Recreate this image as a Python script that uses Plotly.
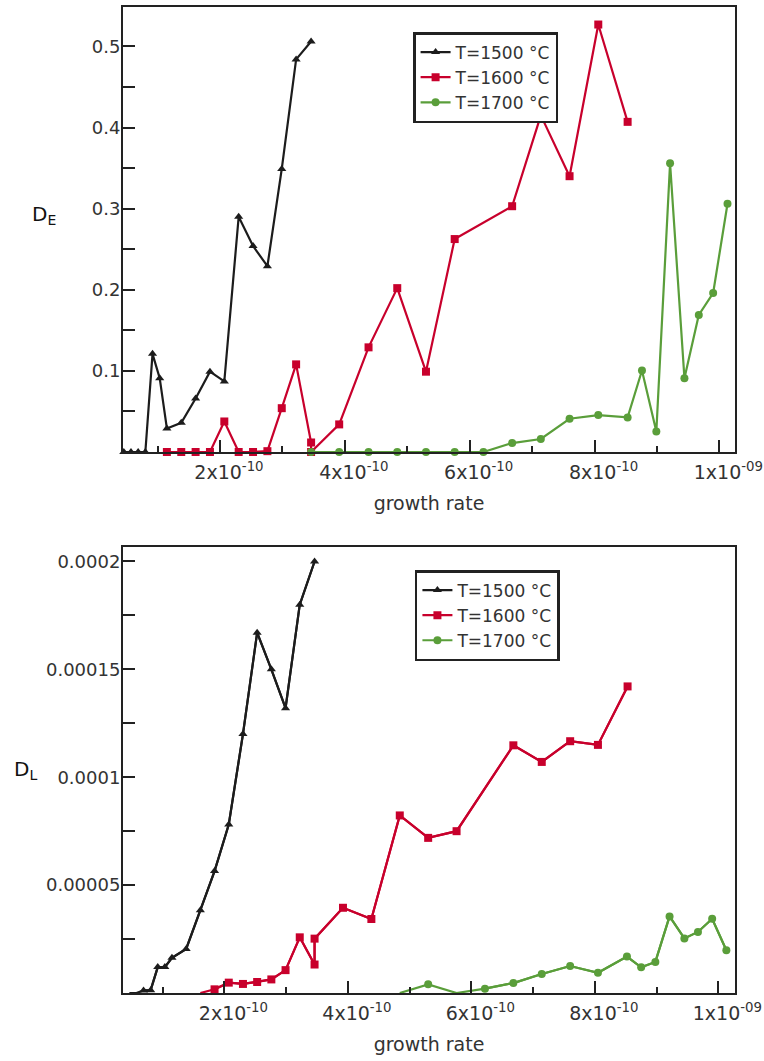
import plotly.graph_objects as go

# ---------------- data (growth rate in units of 1e-10) ----------------
labels = ["T=1500 °C", "T=1600 °C", "T=1700 °C"]

x_1500 = [0.46, 0.575, 0.69, 0.805, 0.92, 1.035, 1.15, 1.38, 1.61, 1.84, 2.07, 2.30, 2.53, 2.76, 2.99, 3.22, 3.46]
DE_1500 = [0, 0, 0, 0, 0.121, 0.091, 0.029, 0.036, 0.066, 0.099, 0.087, 0.290, 0.254, 0.229, 0.349, 0.484, 0.506]
DL_1500 = [0, 0, 0.12, 0.13, 1.2, 1.2, 1.63, 2.04, 3.84, 5.65, 7.81, 12.0, 16.7, 15.0, 13.2, 18.0, 20.0]  # x1e-5

x_1600_E = [1.15, 1.38, 1.61, 1.84, 2.07, 2.30, 2.53, 2.76, 2.99, 3.22, 3.46, 3.46, 3.91, 4.38, 4.84, 5.30, 5.76, 6.68, 7.14, 7.60, 8.06, 8.53]
DE_1600 = [0, 0, 0, 0, 0.0376, 0, 0, 0.001, 0.054, 0.108, 0.0117, 0, 0.034, 0.129, 0.202, 0.099, 0.2625, 0.303, 0.415, 0.340, 0.527, 0.407]
x_1600_L = [1.61, 1.84, 2.07, 2.30, 2.53, 2.76, 2.99, 3.22, 3.46, 3.46, 3.92, 4.38, 4.84, 5.30, 5.76, 6.68, 7.14, 7.60, 8.05, 8.53]
DL_1600 = [0, 0.17, 0.48, 0.42, 0.51, 0.63, 1.06, 2.58, 1.32, 2.52, 3.95, 3.43, 8.23, 7.19, 7.5, 11.48, 10.71, 11.67, 11.5, 14.21]  # x1e-5

x_1700_E = [3.46, 3.91, 4.38, 4.84, 5.30, 5.76, 6.22, 6.68, 7.14, 7.60, 8.06, 8.53, 8.76, 8.99, 9.21, 9.44, 9.67, 9.90, 10.13]
DE_1700 = [0, 0, 0, 0, 0, 0, 0, 0.011, 0.016, 0.041, 0.0455, 0.0426, 0.1005, 0.0253, 0.356, 0.091, 0.169, 0.196, 0.306]
x_1700_L = [4.84, 5.30, 5.76, 6.22, 6.68, 7.14, 7.60, 8.05, 8.52, 8.75, 8.98, 9.21, 9.45, 9.67, 9.90, 10.13]
DL_1700 = [0, 0.40, 0, 0.2, 0.46, 0.88, 1.25, 0.94, 1.69, 1.19, 1.44, 3.55, 2.53, 2.83, 3.44, 1.98]  # x1e-5

x_major = [2, 4, 6, 8, 10]
x_minor = [1, 3, 5, 7, 9]
x_ticktext = ["2x10<sup>-10</sup>", "4x10<sup>-10</sup>", "6x10<sup>-10</sup>", "8x10<sup>-10</sup>", "1x10<sup>-09</sup>"]
yE_ticks = [0.1, 0.2, 0.3, 0.4, 0.5]
yL_ticks = [5, 10, 15, 20]  # x1e-5
yL_ticktext = ["0.00005", "0.0001", "0.00015", "0.0002"]

# ---------------- styling ----------------
colors = ["#1c1c1c", "#c8002c", "#5a9e3a"]
symbols = ["triangle-up", "square", "circle"]
FONT = "DejaVu Sans"
TXT = "#333333"

fig = go.Figure()

def sx(v):
    return [a * 1e-10 for a in v]

def sl(v):
    return [a * 1e-5 for a in v]

top_sets = [(x_1500, DE_1500), (x_1600_E, DE_1600), (x_1700_E, DE_1700)]
bot_sets = [(x_1500, DL_1500), (x_1600_L, DL_1600), (x_1700_L, DL_1700)]

for i, (xs, ys) in enumerate(top_sets):
    fig.add_trace(go.Scatter(
        x=sx(xs), y=ys, mode="lines+markers", name=labels[i],
        line=dict(color=colors[i], width=2.2),
        marker=dict(symbol=symbols[i], size=8, color=colors[i]),
        cliponaxis=False, xaxis="x", yaxis="y", legend="legend"))

for i, (xs, ys) in enumerate(bot_sets):
    # full line
    fig.add_trace(go.Scatter(
        x=sx(xs), y=sl(ys), mode="lines", showlegend=False,
        line=dict(color=colors[i], width=2.2),
        xaxis="x2", yaxis="y2", hoverinfo="skip"))
    # markers only where the value lies inside the plotted range (zeros left as gaps)
    vy = [b * 1e-5 if b > 0 else None for b in ys]
    fig.add_trace(go.Scatter(
        x=sx(xs), y=vy, mode="lines+markers", name=labels[i], connectgaps=False,
        line=dict(color=colors[i], width=2.2),
        marker=dict(symbol=symbols[i], size=8, color=colors[i]),
        xaxis="x2", yaxis="y2", legend="legend2"))

axis_common = dict(showline=True, mirror=True, linecolor="#222222", linewidth=2,
                   showgrid=False, zeroline=False, ticks="inside", tickcolor="#222222",
                   tickfont=dict(family=FONT, size=18, color=TXT))

xcommon = dict(axis_common, tickvals=[v * 1e-10 for v in x_major], ticktext=x_ticktext,
               tickfont=dict(family=FONT, size=19, color=TXT),
               ticklen=12, tickwidth=1.5, ticklabelstandoff=2, ticklabelshift=9,
               automargin=False,
               minor=dict(tickvals=[v * 1e-10 for v in x_minor], ticks="inside", ticklen=6,
                          tickcolor="#222222", tickwidth=1.5),
               title=dict(text="growth rate", font=dict(family=FONT, size=19, color=TXT), standoff=15))

ycommon = dict(axis_common, ticklen=12, tickwidth=1.5, ticklabelstandoff=-3)

legend_common = dict(xanchor="left", yanchor="top",
                     bordercolor="#222222", borderwidth=2.5, bgcolor="white",
                     font=dict(family=FONT, size=17, color=TXT), itemwidth=30,
                     tracegroupgap=0)

fig.update_layout(
    width=764, height=1061,
    margin=dict(l=123, r=29, t=7, b=68),
    paper_bgcolor="white", plot_bgcolor="white",
    xaxis=dict(xcommon, domain=[0, 1], range=[0.447e-10, 10.25e-10], anchor="y"),
    yaxis=dict(ycommon, domain=[0.5487, 1], range=[0, 0.5486], anchor="x",
               tickvals=yE_ticks,
               minor=dict(dtick=0.05, tick0=0, ticks="inside", ticklen=12,
                          tickcolor="#222222", tickwidth=1.5)),
    xaxis2=dict(xcommon, domain=[0, 1], range=[0.357e-10, 10.27e-10], anchor="y2"),
    yaxis2=dict(ycommon, domain=[0, 0.4523], range=[0, 2.067e-4], anchor="x2",
                tickvals=sl(yL_ticks), ticktext=yL_ticktext,
                minor=dict(dtick=2.5e-5, tick0=0, ticks="inside", ticklen=12,
                           tickcolor="#222222", tickwidth=1.5)),
    legend=dict(legend_common, x=0.474, y=0.9746),
    legend2=dict(legend_common, x=0.477, y=0.429),
    annotations=[
        dict(text="D<sub>E</sub>", xref="x domain", yref="y domain", x=-0.152, y=0.533,
             showarrow=False, font=dict(family=FONT, size=20, color="#111111")),
        dict(text="D<sub>L</sub>", xref="x2 domain", yref="y2 domain", x=-0.182, y=0.5,
             showarrow=False, font=dict(family=FONT, size=20, color="#111111")),
    ],
)

fig.write_html("out.html")
